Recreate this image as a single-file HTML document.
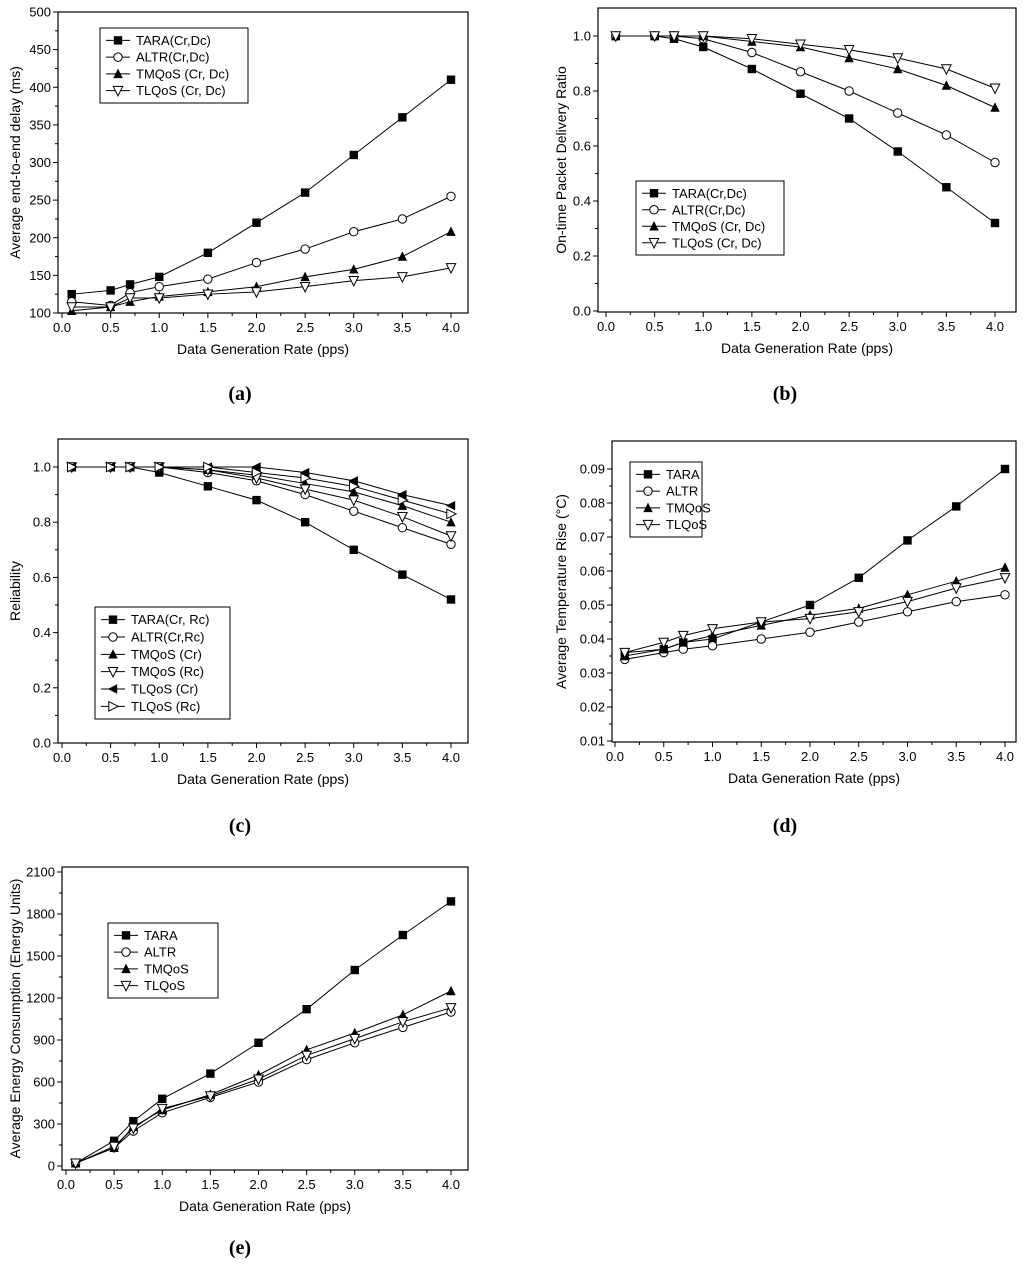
<!DOCTYPE html>
<html><head><meta charset="utf-8">
<style>
body{margin:0;background:#fff;}
svg{display:block;font-family:"Liberation Sans",sans-serif;}
.lbl{font-family:"Liberation Serif",serif;font-weight:bold;font-size:20px;}
</style></head>
<body>
<svg id="fig" width="1024" height="1265" viewBox="0 0 1024 1265"></svg>
<script>
const xVals=[0.1,0.5,0.7,1,1.5,2,2.5,3,3.5,4];
const xTicks=[0.0,0.5,1.0,1.5,2.0,2.5,3.0,3.5,4.0];
// (a)
const aNames=["TARA(Cr,Dc)","ALTR(Cr,Dc)","TMQoS (Cr, Dc)","TLQoS (Cr, Dc)"];
const aTara=[125,130,138,148,180,220,260,310,360,410];
const aAltr=[115,110,127,135,145,167,185,208,225,255];
const aTmq=[103,108,115,122,128,135,148,158,175,208];
const aTlq=[108,108,120,120,125,128,135,143,148,160];
const aYTicks=[100,150,200,250,300,350,400,450,500];
// (b)
const bNames=["TARA(Cr,Dc)","ALTR(Cr,Dc)","TMQoS (Cr, Dc)","TLQoS (Cr, Dc)"];
const bTara=[1,1,0.99,0.96,0.88,0.79,0.70,0.58,0.45,0.32];
const bAltr=[1,1,1,0.99,0.94,0.87,0.80,0.72,0.64,0.54];
const bTmq=[1,1,1,1,0.98,0.96,0.92,0.88,0.82,0.74];
const bTlq=[1,1,1,1,0.99,0.97,0.95,0.92,0.88,0.81];
const bYTicks=[0.0,0.2,0.4,0.6,0.8,1.0];
// (c)
const cNames=["TARA(Cr, Rc)","ALTR(Cr,Rc)","TMQoS (Cr)","TMQoS (Rc)","TLQoS (Cr)","TLQoS (Rc)"];
const cTara=[1,1,1,0.98,0.93,0.88,0.80,0.70,0.61,0.52];
const cAltr=[1,1,1,1,0.98,0.95,0.90,0.84,0.78,0.72];
const cTmqCr=[1,1,1,1,0.99,0.97,0.94,0.91,0.86,0.80];
const cTmqRc=[1,1,1,1,0.99,0.96,0.92,0.88,0.82,0.75];
const cTlqCr=[1,1,1,1,1,1,0.98,0.95,0.90,0.86];
const cTlqRc=[1,1,1,1,1,0.98,0.96,0.93,0.88,0.83];
const cYTicks=[0.0,0.2,0.4,0.6,0.8,1.0];
// (d)
const dNames=["TARA","ALTR","TMQoS","TLQoS"];
const dTara=[0.036,0.037,0.039,0.040,0.045,0.050,0.058,0.069,0.079,0.090];
const dAltr=[0.034,0.036,0.037,0.038,0.040,0.042,0.045,0.048,0.051,0.053];
const dTmq=[0.035,0.037,0.039,0.041,0.044,0.047,0.049,0.053,0.057,0.061];
const dTlq=[0.036,0.039,0.041,0.043,0.045,0.046,0.048,0.051,0.055,0.058];
const dYTicks=[0.01,0.02,0.03,0.04,0.05,0.06,0.07,0.08,0.09];
// (e)
const eNames=["TARA","ALTR","TMQoS","TLQoS"];
const eTara=[20,180,320,480,660,880,1120,1400,1650,1890];
const eAltr=[20,130,250,380,490,600,760,880,990,1100];
const eTmq=[20,130,280,400,510,650,830,950,1080,1250];
const eTlq=[20,140,270,410,500,620,790,910,1030,1130];
const eYTicks=[0,300,600,900,1200,1500,1800,2100];

const NS="http://www.w3.org/2000/svg";
const svg=document.getElementById('fig');
function mk(tag,at,parent){const e=document.createElementNS(NS,tag);for(const k in at)e.setAttribute(k,at[k]);(parent||svg).appendChild(e);return e;}

function marker(g,type,x,y){
  const s=4.2;let e;
  if(type==='sq'){e=mk('rect',{x:x-s,y:y-s,width:2*s,height:2*s,fill:'#000'},g);}
  else if(type==='circ'){e=mk('circle',{cx:x,cy:y,r:s,fill:'#fff',stroke:'#000','stroke-width':1},g);}
  else if(type==='tri'){e=mk('polygon',{points:`${x},${y-s-1} ${x-s-0.5},${y+s} ${x+s+0.5},${y+s}`,fill:'#000'},g);}
  else if(type==='itri'){e=mk('polygon',{points:`${x},${y+s+1} ${x-s-0.5},${y-s} ${x+s+0.5},${y-s}`,fill:'#fff',stroke:'#000','stroke-width':1},g);}
  else if(type==='ltri'){e=mk('polygon',{points:`${x-s-1},${y} ${x+s},${y-s-0.5} ${x+s},${y+s+0.5}`,fill:'#000'},g);}
  else if(type==='rtri'){e=mk('polygon',{points:`${x+s+1},${y} ${x-s},${y-s-0.5} ${x-s},${y+s+0.5}`,fill:'#fff',stroke:'#000','stroke-width':1},g);}
  
  
}

function chart(o){
  const g=mk('g',{});
  
  
  const X=v=>o.x0px+(v)*(o.x4px-o.x0px)/4;
  const Y=v=>o.yb+(v-o.ymin)*(o.yt-o.yb)/(o.ymax-o.ymin);
  const f=mk('rect',{x:o.L,y:o.T,width:o.R-o.L,height:o.B-o.T,fill:'none',stroke:'#000','stroke-width':1.2},g);
  
  
  xTicks.forEach(t=>{
    mk('line',{x1:X(t),x2:X(t),y1:o.B,y2:o.B+5,stroke:'#000'},g);
    const tx=mk('text',{x:X(t),y:o.B+19,'font-size':13,'text-anchor':'middle'},g);
    tx.textContent=t.toFixed(1);
    
    
  });
  for(let i=0;i<xTicks.length-1;i++){const m=(xTicks[i]+xTicks[i+1])/2;mk('line',{x1:X(m),x2:X(m),y1:o.B,y2:o.B+3,stroke:'#000'},g);}
  o.yTicks.forEach((t,i)=>{
    mk('line',{x1:o.L-5,x2:o.L,y1:Y(t),y2:Y(t),stroke:'#000'},g);
    if(i<o.yTicks.length-1){const m=(t+o.yTicks[i+1])/2;mk('line',{x1:o.L-3,x2:o.L,y1:Y(m),y2:Y(m),stroke:'#000'},g);}
    const tx=mk('text',{x:o.L-7,y:Y(t)+4.5,'font-size':13,'text-anchor':'end'},g);
    tx.textContent=o.fmt(t);
    
    
  });
  const xt=mk('text',{x:(o.L+o.R)/2,y:o.B+41,'font-size':14,'text-anchor':'middle'},g);
  xt.textContent='Data Generation Rate (pps)';
  
  
  const yt=mk('text',{x:0,y:0,'font-size':14,'text-anchor':'middle',transform:`translate(${o.ytx},${(o.T+o.B)/2}) rotate(-90)`},g);
  yt.textContent=o.ytitle;
  
  
  o.series.forEach((s,si)=>{
    const pts=xVals.map((x,i)=>X(x)+','+Y(s[i])).join(' ');
    const pl=mk('polyline',{points:pts,fill:'none',stroke:'#000','stroke-width':1},g);
    
    
    xVals.forEach((x,i)=>marker(g,o.marks[si],X(x),Y(s[i])));
  });
  const lg=mk('g',{},g);
  
  
  mk('rect',{x:o.lx,y:o.ly,width:o.lw,height:o.lh,fill:'#fff',stroke:'#000','stroke-width':1},lg);
  const step=(o.lh-8)/o.names.length;
  o.names.forEach((n,i)=>{
    const cy=o.ly+4+step*(i+0.5);
    const le=mk('g',{},lg);
    
    
    mk('line',{x1:o.lx+6,x2:o.lx+30,y1:cy,y2:cy,stroke:'#000'},le);
    marker(le,o.marks[i],o.lx+18,cy);
    const t=mk('text',{x:o.lx+36,y:cy+4.5,'font-size':13},le);
    t.textContent=n;
  });
  const lab=mk('text',{x:o.labx,y:o.laby,'text-anchor':'middle',class:'lbl'},g);
  lab.textContent=o.label;
  
  
}
const m4=['sq','circ','tri','itri'];
chart({name:'chart-a',L:58,R:468,T:12,B:313,x0px:62,x4px:451,ymin:100,ymax:500,yb:313,yt:12,yTicks:aYTicks,fmt:v=>String(v),
  ytitle:'Average end-to-end delay (ms)',ytx:20,series:[aTara,aAltr,aTmq,aTlq],marks:m4,names:aNames,
  lx:100,ly:28,lw:148,lh:75,label:'(a)',labx:240,laby:400});
chart({name:'chart-b',L:598,R:1016,T:8,B:312,x0px:606,x4px:995,ymin:0,ymax:1.1,yb:311,yt:8.5,yTicks:bYTicks,fmt:v=>v.toFixed(1),
  ytitle:'On-time Packet Delivery Ratio',ytx:566,series:[bTara,bAltr,bTmq,bTlq],marks:m4,names:bNames,
  lx:636,ly:181,lw:148,lh:74,label:'(b)',labx:785,laby:400});
chart({name:'chart-c',L:58,R:468,T:439,B:743,x0px:62,x4px:451,ymin:0,ymax:1.1,yb:743,yt:439.4,yTicks:cYTicks,fmt:v=>v.toFixed(1),
  ytitle:'Reliability',ytx:20,series:[cTara,cAltr,cTmqCr,cTmqRc,cTlqCr,cTlqRc],marks:['sq','circ','tri','itri','ltri','rtri'],names:cNames,
  lx:95,ly:607,lw:135,lh:112,label:'(c)',labx:240,laby:832});
chart({name:'chart-d',L:612,R:1016,T:441,B:742,x0px:615,x4px:1005,ymin:0.01,ymax:0.09,yb:741,yt:469,yTicks:dYTicks,fmt:v=>v.toFixed(2),
  ytitle:'Average Temperature Rise (°C)',ytx:566,series:[dTara,dAltr,dTmq,dTlq],marks:m4,names:dNames,
  lx:630,ly:462,lw:72,lh:75,label:'(d)',labx:785,laby:832});
chart({name:'chart-e',L:62,R:468,T:867,B:1170,x0px:66,x4px:451,ymin:0,ymax:2100,yb:1166,yt:872,yTicks:eYTicks,fmt:v=>String(v),
  ytitle:'Average Energy Consumption (Energy Units)',ytx:20,series:[eTara,eAltr,eTmq,eTlq],marks:m4,names:eNames,
  lx:108,ly:923,lw:110,lh:75,label:'(e)',labx:240,laby:1254});
</script>
</body></html>
